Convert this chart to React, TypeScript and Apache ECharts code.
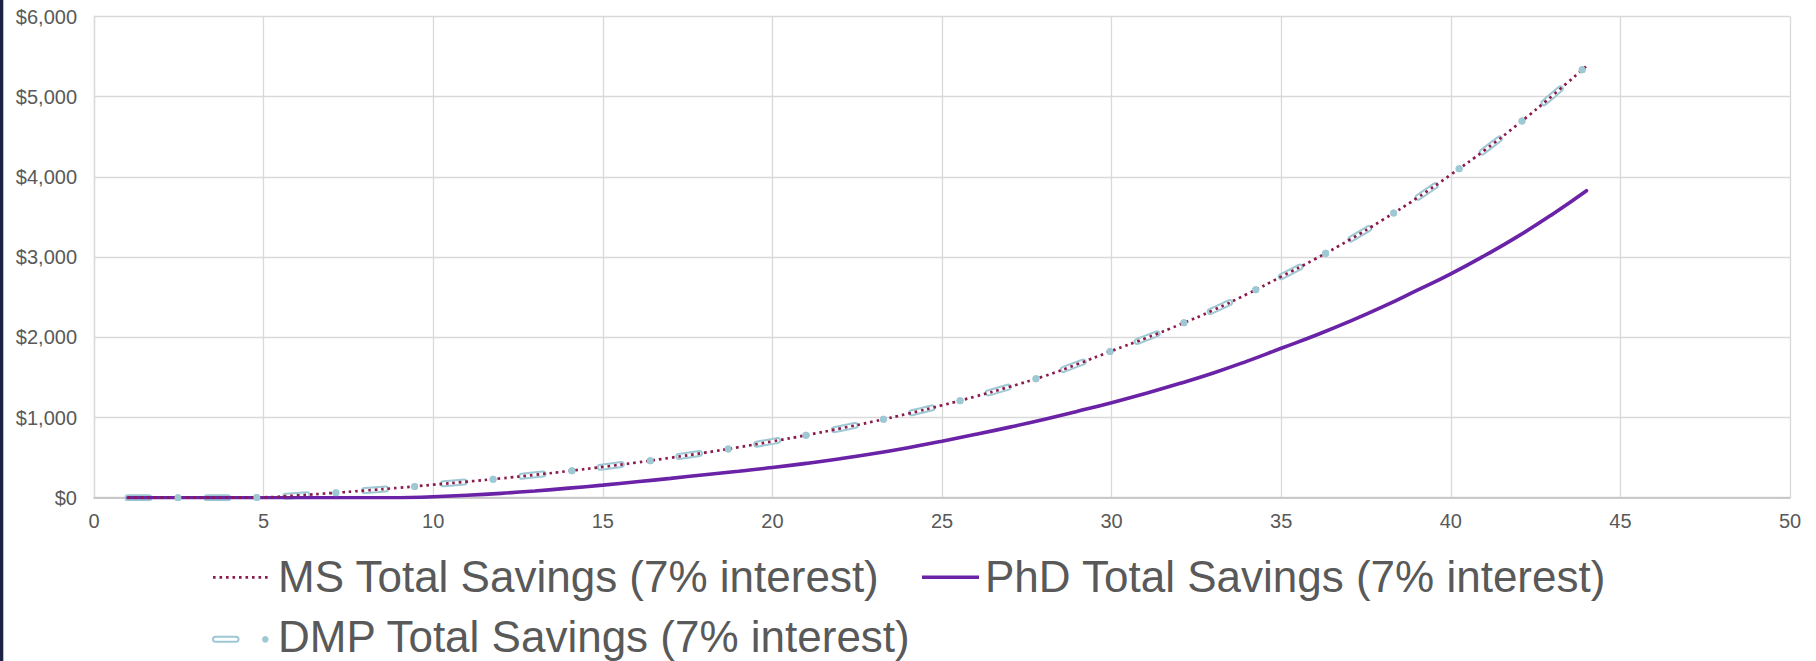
import React, { useEffect, useRef } from "react";
import * as echarts from "echarts";

const years: number[] = [
  1, 2, 3, 4, 5, 6, 7, 8, 9, 10, 11, 12, 13, 14, 15, 16, 17, 18, 19, 20, 21, 22,
  23, 24, 25, 26, 27, 28, 29, 30, 31, 32, 33, 34, 35, 36, 37, 38, 39, 40, 41, 42,
  43, 44,
];

const msSavings: number[] = [
  0, 0, 0, 0, 5, 28, 58, 90, 124, 162, 200, 241, 285, 333, 384, 439, 498, 561,
  629, 702, 780, 863, 952, 1048, 1152, 1264, 1384, 1514, 1666, 1830, 1988, 2157,
  2339, 2540, 2756, 2976, 3212, 3466, 3736, 4028, 4334, 4664, 5015, 5383,
];

const phdSavings: number[] = [
  0, 0, 0, 0, 0, 0, 0, 0, 0, 12, 30, 54, 84, 119, 157, 198, 241, 286, 330, 376,
  428, 486, 551, 624, 705, 790, 880, 976, 1078, 1185, 1300, 1423, 1555, 1703,
  1863, 2023, 2195, 2382, 2585, 2792, 3020, 3265, 3535, 3828,
];

const dmpSavings: number[] = [
  0, 0, 0, 0, 5, 28, 58, 90, 124, 162, 200, 241, 285, 333, 384, 439, 498, 561,
  629, 702, 780, 863, 952, 1048, 1152, 1264, 1384, 1514, 1666, 1830, 1988, 2157,
  2339, 2540, 2756, 2976, 3212, 3466, 3736, 4028, 4334, 4664, 5015, 5383,
];

const legendLabels: string[] = [
  "MS Total Savings (7% interest)",
  "PhD Total Savings (7% interest)",
  "DMP Total Savings (7% interest)",
];

const MS_COLOR = "#8B1A4D";
const PHD_COLOR = "#6A22A6";
const DMP_COLOR = "#9DC8D4";
const TEXT_COLOR = "#595959";
const FONT = "'Liberation Sans', Arial, Helvetica, sans-serif";

const pairs = (vals: number[]) => years.map((x, i) => [x, vals[i]]);

export default function App() {
  const ref = useRef<HTMLDivElement>(null);

  useEffect(() => {
    document.body.style.margin = "0";
    if (!ref.current) return;
    const chart = echarts.init(ref.current, undefined, { renderer: "svg" });

    const baseLine = {
      type: "line" as const,
      showSymbol: false,
      symbol: "none",
      smooth: 0.5,
      silent: true,
    };

    chart.setOption({
      animation: false,
      backgroundColor: "#ffffff",
      grid: { left: 94, right: 26, top: 16.5, bottom: 163.3, containLabel: false },
      xAxis: {
        type: "value",
        min: 0,
        max: 50,
        interval: 5,
        axisLine: { show: true, lineStyle: { color: "#BFBFBF", width: 1.6 } },
        axisTick: { show: false },
        splitLine: { show: true, lineStyle: { color: "#D9D9D9", width: 1.3 } },
        axisLabel: {
          margin: 13,
          fontSize: 20,
          color: TEXT_COLOR,
          fontFamily: FONT,
        },
      },
      yAxis: {
        type: "value",
        min: 0,
        max: 6000,
        interval: 1000,
        axisLine: { show: true, lineStyle: { color: "#D9D9D9", width: 1.3 } },
        axisTick: { show: false },
        splitLine: { show: true, lineStyle: { color: "#D9D9D9", width: 1.3 } },
        axisLabel: {
          margin: 17,
          fontSize: 20,
          color: TEXT_COLOR,
          fontFamily: FONT,
          formatter: (v: number) => "$" + v.toLocaleString("en-US"),
        },
      },
      series: [
        {
          ...baseLine,
          name: legendLabels[2],
          data: pairs(dmpSavings),
          z: 2,
          lineStyle: { color: DMP_COLOR, width: 7, type: [21, 29, 0, 29], cap: "round" },
        },
        {
          ...baseLine,
          name: "DMP inner",
          data: pairs(dmpSavings),
          z: 3,
          lineStyle: { color: "#ffffff", width: 3, type: [21, 58], cap: "round" },
        },
        {
          ...baseLine,
          name: legendLabels[1],
          data: pairs(phdSavings),
          z: 4,
          lineStyle: { color: PHD_COLOR, width: 3.6, type: "solid", cap: "round" },
        },
        {
          ...baseLine,
          name: legendLabels[0],
          data: pairs(msSavings),
          z: 5,
          lineStyle: { color: MS_COLOR, width: 2.7, type: [2.6, 3.9], cap: "butt" },
        },
        {
          ...baseLine,
          name: "DMP dots",
          data: pairs(dmpSavings),
          z: 6,
          lineStyle: {
            color: DMP_COLOR,
            width: 7,
            type: [0, 79],
            dashOffset: 29,
            cap: "round",
          },
        },
      ],
      graphic: [
        {
          type: "rect",
          shape: { x: 0, y: 0, width: 3.3, height: 661 },
          style: { fill: "#1F2247" },
          silent: true,
        },
        {
          type: "line",
          shape: { x1: 213, y1: 577.3, x2: 269, y2: 577.3 },
          style: { stroke: MS_COLOR, lineWidth: 2.7, lineDash: [2.6, 3.9] },
          silent: true,
        },
        {
          type: "text",
          x: 278,
          y: 576.5,
          style: {
            text: legendLabels[0],
            fill: TEXT_COLOR,
            font: `44px ${FONT}`,
            align: "left",
            verticalAlign: "middle",
          },
          silent: true,
        },
        {
          type: "line",
          shape: { x1: 922, y1: 577.3, x2: 979, y2: 577.3 },
          style: { stroke: PHD_COLOR, lineWidth: 3.6 },
          silent: true,
        },
        {
          type: "text",
          x: 985,
          y: 576.5,
          style: {
            text: legendLabels[1],
            fill: TEXT_COLOR,
            font: `44px ${FONT}`,
            align: "left",
            verticalAlign: "middle",
          },
          silent: true,
        },
        {
          type: "line",
          shape: { x1: 215.5, y1: 639.3, x2: 236, y2: 639.3 },
          style: { stroke: DMP_COLOR, lineWidth: 7, lineCap: "round" },
          silent: true,
        },
        {
          type: "line",
          shape: { x1: 215.5, y1: 639.3, x2: 236, y2: 639.3 },
          style: { stroke: "#ffffff", lineWidth: 3, lineCap: "round" },
          silent: true,
        },
        {
          type: "circle",
          shape: { cx: 265.3, cy: 639.3, r: 3.3 },
          style: { fill: DMP_COLOR },
          silent: true,
        },
        {
          type: "text",
          x: 278,
          y: 636.5,
          style: {
            text: legendLabels[2],
            fill: TEXT_COLOR,
            font: `44px ${FONT}`,
            align: "left",
            verticalAlign: "middle",
          },
          silent: true,
        },
      ],
    });

    return () => {
      chart.dispose();
    };
  }, []);

  return <div ref={ref} style={{ width: 1816, height: 661 }} />;
}
